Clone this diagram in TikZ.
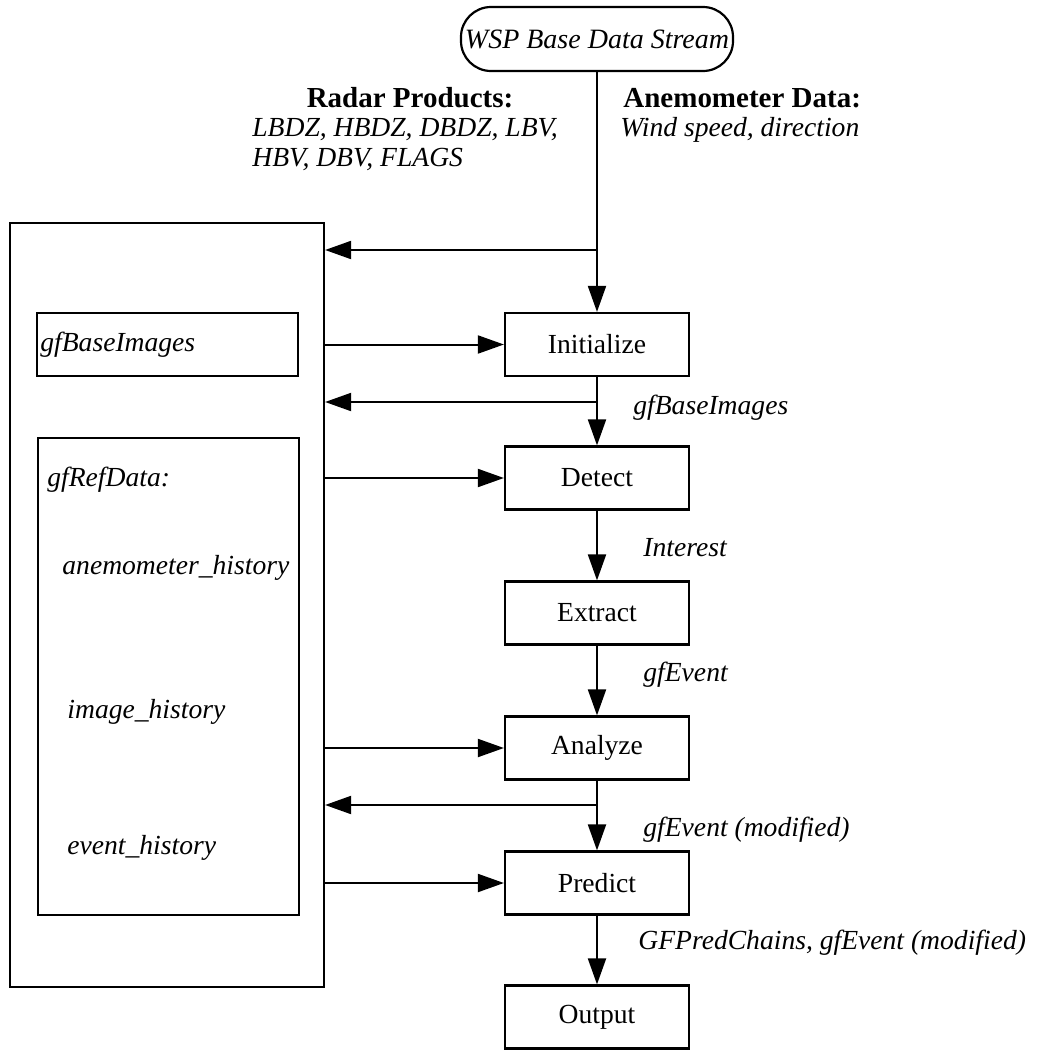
\documentclass[tikz,border=0pt]{standalone}
\usepackage{fontspec}
\setmainfont{Liberation Serif}
\usetikzlibrary{arrows.meta}
\begin{document}
\begin{tikzpicture}[x=0.5pt,y=-0.5pt,
  every node/.style={font=\fontsize{13.8}{15}\selectfont, inner sep=0pt},
  proc/.style={draw, line width=1.1pt, minimum width=92pt, minimum height=31.5pt, inner sep=0pt},
  lbl/.style={anchor=west, font=\fontsize{13.8}{15}\selectfont\itshape},
  flow/.style={line width=1pt, -{Triangle[length=13pt,width=9pt]}},
  frame/.style={draw, line width=1.1pt}]
\useasboundingbox (0,0) rectangle (1037,1050);

% top stream node
\node[draw, line width=1.1pt, rounded corners=15pt, minimum width=136pt, minimum height=32pt,
      font=\fontsize{14}{15}\selectfont\itshape] (top) at (597,39) {WSP Base Data Stream};

% input labels
\node[font=\fontsize{14.5}{15}\selectfont\bfseries] (rptitle) at (410,98) {Radar Products:};
\node[lbl, align=left] (rplist) at (252,145) {LBDZ, HBDZ, DBDZ, LBV,\\HBV, DBV, FLAGS};
\node[anchor=west, font=\fontsize{14.5}{15}\selectfont\bfseries] (antitle) at (623,98) {Anemometer Data:};
\node[lbl] (anlist) at (620,130) {Wind speed, direction};

% process column
\node[proc] (init) at (597,344.5) {Initialize};
\node[proc] (detect) at (597,478) {Detect};
\node[proc] (extract) at (597,613) {Extract};
\node[proc] (analyze) at (597,748) {Analyze};
\node[proc] (predict) at (597,883) {Predict};
\node[proc] (output) at (597,1017) {Output};

% data store frames
\node[frame, minimum width=157pt, minimum height=382pt] (big) at (167,605) {};
\node[frame, minimum width=130.5pt, minimum height=31.5pt] (gfbase) at (167.5,344.5) {};
\node[frame, minimum width=130.5pt, minimum height=238.5pt] (gfref) at (168.5,676.5) {};

% texts inside frames
\node[lbl] (tgfbase) at (40,345) {gfBaseImages};
\node[lbl] (tgfref) at (47,480) {gfRefData:};
\node[lbl] (tanem) at (62,568) {anemometer\_history};
\node[lbl] (timg) at (67,712) {image\_history};
\node[lbl] (tevt) at (67,848) {event\_history};

% flow labels
\node[lbl] (l1) at (633,408) {gfBaseImages};
\node[lbl] (l2) at (643,548) {Interest};
\node[lbl] (l3) at (643,675) {gfEvent};
\node[lbl] (l4) at (643,830) {gfEvent (modified)};
\node[lbl] (l5) at (638,943) {GFPredChains, gfEvent (modified)};

% branch points
\coordinate (b1) at (597,250);
\coordinate (b2) at (597,402);
\coordinate (b3) at (597,805);

% connectors
\draw[flow] (top.south) -- (init.north);
\draw[flow] (b1) -- (b1 -| big.east);
\draw[flow] (big.east |- init.west) -- (init.west);
\draw[flow] (init.south) -- (detect.north);
\draw[flow] (b2) -- (b2 -| big.east);
\draw[flow] (big.east |- detect.west) -- (detect.west);
\draw[flow] (detect.south) -- (extract.north);
\draw[flow] (extract.south) -- (analyze.north);
\draw[flow] (big.east |- analyze.west) -- (analyze.west);
\draw[flow] (analyze.south) -- (predict.north);
\draw[flow] (b3) -- (b3 -| big.east);
\draw[flow] (big.east |- predict.west) -- (predict.west);
\draw[flow] (predict.south) -- (output.north);
\end{tikzpicture}
\end{document}
